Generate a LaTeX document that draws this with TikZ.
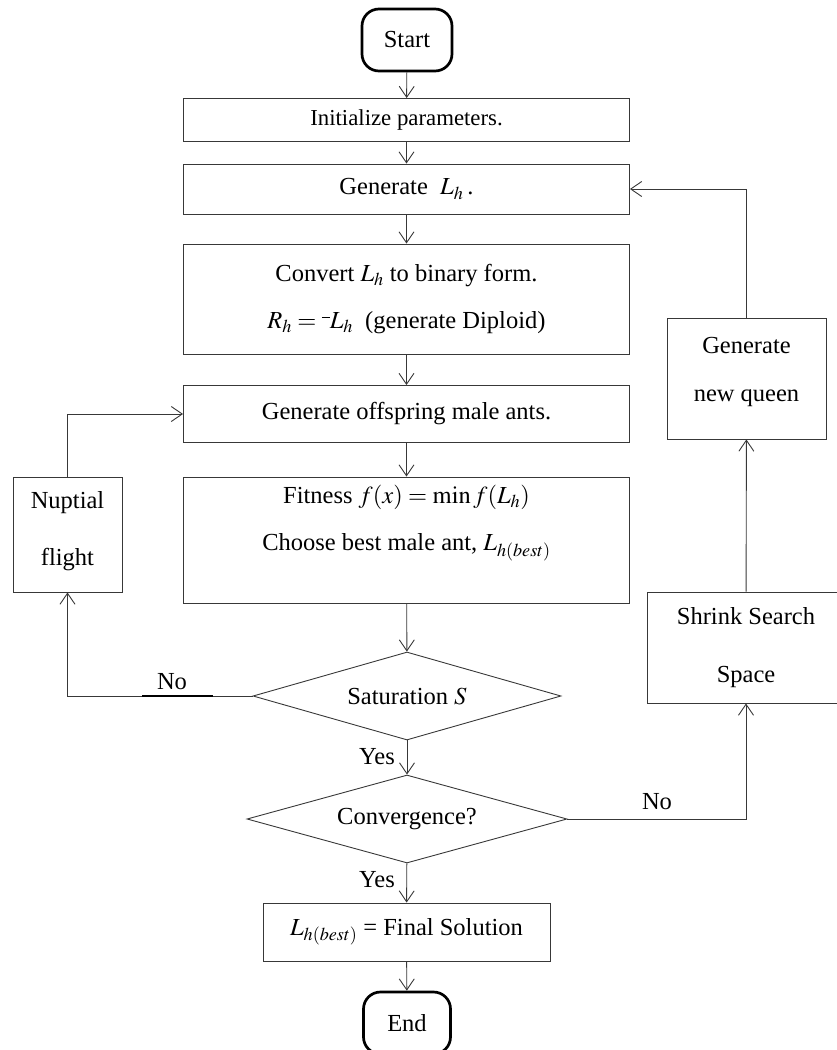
\documentclass[tikz,border=0pt]{standalone}
\usepackage{mathptmx}
\usepackage{fontspec}
\setmainfont{Liberation Serif}
\usetikzlibrary{arrows.meta,shapes.geometric}
\newcommand{\mainfs}{\fontsize{24.5}{29}\selectfont}
\newcommand{\initfs}{\fontsize{22.8}{27}\selectfont}
\newcommand{\negbar}{\raisebox{0.95ex}{\rule{0.32em}{0.7pt}}}
\begin{document}
\begin{tikzpicture}[x=1pt,y=-1pt,
  box/.style={draw=black!78, line width=0.9pt, font=\mainfs, align=center, inner sep=0pt},
  txt/.style={font=\mainfs, align=center, inner sep=0pt},
  term/.style={draw=black, line width=2.7pt, rounded corners=17pt, font=\mainfs, inner sep=0pt},
  dec/.style={draw=black!78, line width=0.9pt, diamond, aspect=3.5, font=\mainfs, inner sep=0pt},
  arr/.style={draw=black!78, line width=0.9pt, -{Straight Barb[length=11pt,width=15pt]}},
  lbl/.style={font=\mainfs, inner sep=0pt}]
\useasboundingbox (0,0) rectangle (837,1050);
\clip (0,0) rectangle (837,1050);
% main column
\node[term, minimum width=90pt, minimum height=62pt] (start) at (407,40) {Start};
\node[box, font=\initfs, minimum width=446pt, minimum height=43pt] (init) at (406.5,120) {Initialize parameters.};
\node[box, minimum width=446pt, minimum height=50pt] (genL) at (406.5,189) {Generate\ \ $L_h$\,.};
\node[box, minimum width=446pt, minimum height=110pt] (conv) at (406.5,299)
  {Convert $L_h$ to binary form.\\[18pt] $R_h = \negbar L_h$\ \ (generate Diploid)};
\node[box, minimum width=446pt, minimum height=57pt] (offs) at (406.5,414) {Generate offspring male ants.};
\node[box, minimum width=446pt, minimum height=126pt] (fit) at (406.5,540) {};
\node[txt] (fitT) at (406.5,523)
  {Fitness $f(x) = \min f(L_h)$\\[18pt] Choose best male ant, $L_{h(best)}$};
\node[dec, minimum width=308pt, minimum height=88pt] (sat) at (407,696) {Saturation $S$};
\node[dec, minimum width=320pt, minimum height=88pt] (cvg) at (407,819) {Convergence?};
\node[box, minimum width=287pt, minimum height=58pt] (final) at (406.5,932) {$L_{h(best)}$ = Final Solution};
\node[term, minimum width=87pt, minimum height=62pt] (end) at (407,1023) {End};
% side boxes
\node[box, minimum width=109pt, minimum height=115pt] (nup) at (67.5,534.5) {};
\node[txt] (nupT) at (67.5,531) {Nuptial\\[28pt] flight};
\node[box, minimum width=198pt, minimum height=111pt] (shrink) at (746,647.5) {Shrink Search\\[29pt] Space};
\node[box, minimum width=159pt, minimum height=121pt] (queen) at (746.5,378.5) {};
\node[txt] (queenT) at (746.5,372) {Generate\\[19pt] new queen};
% labels
\node[lbl] (no1) at (172,682) {No};
\node[lbl] (yes1) at (377,757) {Yes};
\node[lbl] (yes2) at (377,880) {Yes};
\node[lbl] (no2) at (657,802) {No};
% connectors
\draw[arr] (start) -- (init);
\draw[arr] (init) -- (genL);
\draw[arr] (genL) -- (conv);
\draw[arr] (conv) -- (offs);
\draw[arr] (offs) -- (fit);
\draw[arr] (fit) -- (sat);
\draw[arr] (sat) -- (cvg);
\draw[arr] (cvg) -- (final);
\draw[arr] (final) -- (end);
\draw[arr] (sat.west) -| (nup.south);
\draw[line width=2.2pt] ([xshift=-30pt]no1.center |- sat.west) -- ([xshift=41pt]no1.center |- sat.west);
\draw[arr] (nup.north) |- (offs.west);
\draw[arr] (cvg.east) -| (shrink.south);
\draw[arr] (shrink) -- (queen);
\draw[arr] (queen.north) |- (genL.east);
\end{tikzpicture}
\end{document}
